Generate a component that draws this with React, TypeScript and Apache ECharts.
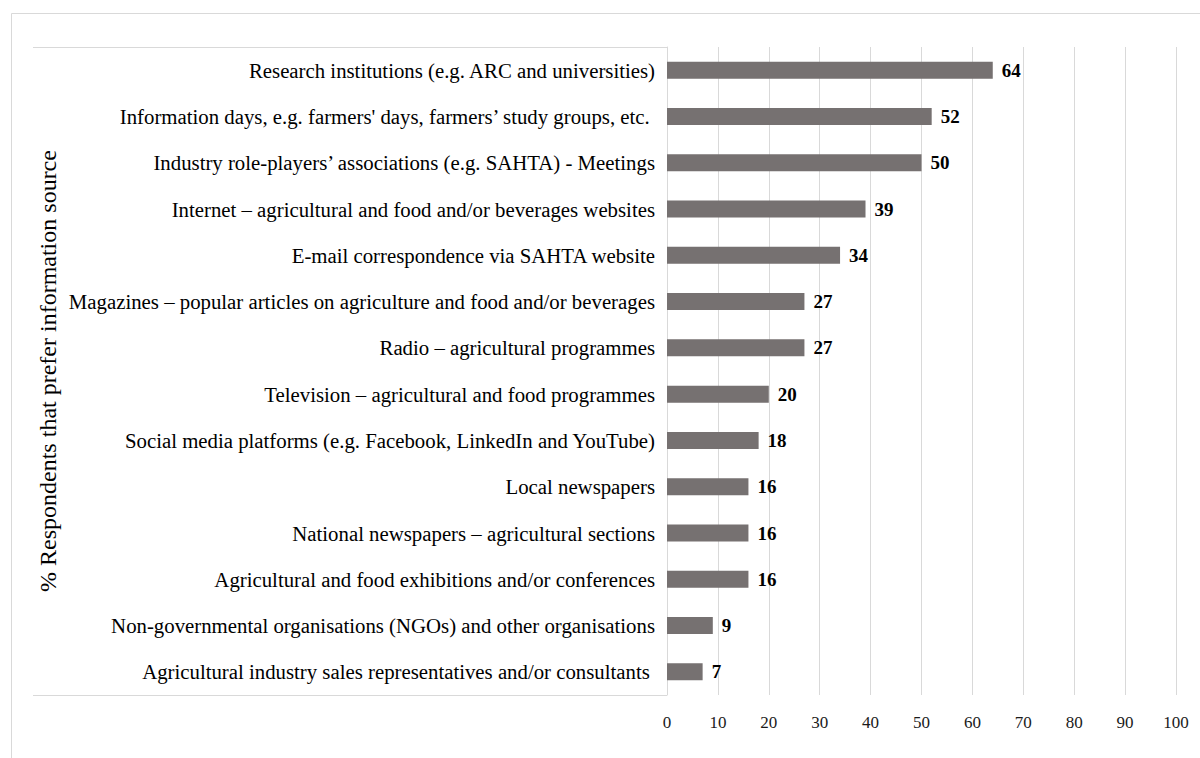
import React, { useEffect, useRef } from "react";
import * as echarts from "echarts";

const categories = [
  "Research institutions (e.g. ARC and universities)",
  "Information days, e.g. farmers' days, farmers’ study groups, etc. ",
  "Industry role-players’ associations (e.g. SAHTA) - Meetings",
  "Internet – agricultural and food and/or beverages websites",
  "E-mail correspondence via SAHTA website",
  "Magazines – popular articles on agriculture and food and/or beverages",
  "Radio – agricultural programmes",
  "Television – agricultural and food programmes",
  "Social media platforms (e.g. Facebook, LinkedIn and YouTube)",
  "Local newspapers",
  "National newspapers – agricultural sections",
  "Agricultural and food exhibitions and/or conferences",
  "Non-governmental organisations (NGOs) and other organisations",
  "Agricultural industry sales representatives and/or consultants ",
];
const values = [64, 52, 50, 39, 34, 27, 27, 20, 18, 16, 16, 16, 9, 7];
const axisTitle = "% Respondents that prefer information source";

const FONT = "Liberation Serif";

export default function App() {
  const ref = useRef<HTMLDivElement>(null);
  useEffect(() => {
    if (!ref.current) return;
    const chart = echarts.init(ref.current, null, { renderer: "svg" });
    chart.setOption({
      animation: false,
      backgroundColor: "#ffffff",
      textStyle: { fontFamily: FONT },
      grid: { left: 667, right: 24, top: 47, bottom: 63, containLabel: false },
      xAxis: {
        type: "value",
        min: 0,
        max: 100,
        interval: 10,
        axisLine: { show: false },
        axisTick: { show: false },
        axisLabel: { color: "#1a1a1a", fontSize: 17, fontFamily: FONT, margin: 19 },
        splitLine: { show: true, lineStyle: { color: "#d9d9d9", width: 1 } },
      },
      yAxis: {
        type: "category",
        data: categories,
        inverse: true,
        axisLine: { show: true, lineStyle: { color: "#d9d9d9" } },
        axisTick: { show: false },
        axisLabel: { color: "#000000", fontSize: 20.8, fontFamily: FONT, margin: 12 },
        name: axisTitle,
        nameLocation: "middle",
        nameRotate: 90,
        nameGap: 607,
        nameTextStyle: { color: "#000000", fontSize: 24, fontFamily: FONT },
      },
      series: [
        {
          type: "bar",
          data: values,
          barWidth: 17,
          itemStyle: { color: "#767171" },
          label: {
            show: true,
            position: "right",
            distance: 9,
            color: "#000000",
            fontWeight: "bold",
            fontSize: 19,
            fontFamily: FONT,
          },
        },
      ],
      graphic: [
        {
          type: "rect",
          silent: true,
          shape: { x: 11.5, y: 13.5, width: 1300, height: 900 },
          style: { fill: "none", stroke: "#d9d9d9", lineWidth: 1 },
        },
        {
          type: "line",
          silent: true,
          shape: { x1: 33, y1: 47.5, x2: 667, y2: 47.5 },
          style: { stroke: "#d9d9d9", lineWidth: 1 },
        },
        {
          type: "line",
          silent: true,
          shape: { x1: 33, y1: 695.5, x2: 667, y2: 695.5 },
          style: { stroke: "#d9d9d9", lineWidth: 1 },
        },
      ],
    });
    return () => chart.dispose();
  }, []);
  return (
    <div
      ref={ref}
      style={{ position: "fixed", left: 0, top: 0, width: 1200, height: 758 }}
    />
  );
}
